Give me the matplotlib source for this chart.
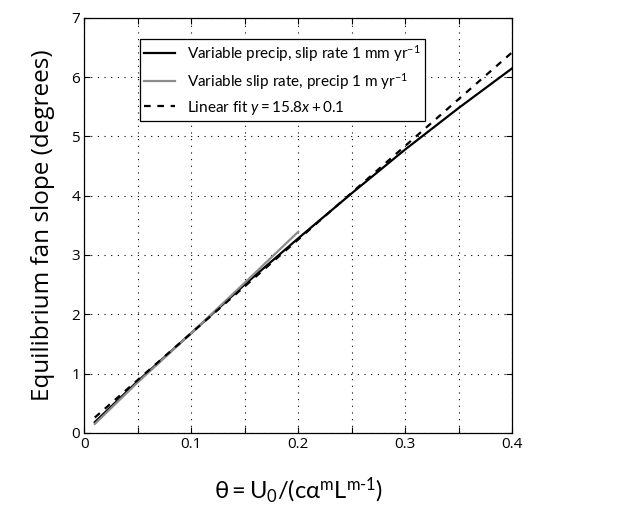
import matplotlib
matplotlib.use('Agg')

import matplotlib.pyplot as plt
import numpy as np

plt.rcParams['font.family'] = ['Open Sans', 'DejaVu Sans']
plt.rcParams['mathtext.fontset'] = 'custom'
plt.rcParams['mathtext.rm'] = 'Lato'
plt.rcParams['mathtext.it'] = 'Lato:italic'

# Data
precip_x = [0.01, 0.05, 0.10, 0.15, 0.20, 0.25, 0.30, 0.35, 0.40]
precip_y = [0.18, 0.87, 1.68, 2.50, 3.28, 4.04, 4.78, 5.48, 6.15]

slip_x = [0.01, 0.05, 0.10, 0.15, 0.20]
slip_y = [0.15, 0.85, 1.68, 2.53, 3.39]

fit_x = [0.01, 0.40]
fit_y = [0.258, 6.42]

xticks = [0, 0.05, 0.1, 0.15, 0.2, 0.25, 0.3, 0.35, 0.4]
xticklabels = ['0', '', '0.1', '', '0.2', '', '0.3', '', '0.4']
yticks = [0, 1, 2, 3, 4, 5, 6, 7]

fig = plt.figure(figsize=(6.42, 5.08), dpi=100)
ax = fig.add_axes([0.131, 0.148, 0.667, 0.817])

ax.plot(precip_x, precip_y, color='black', lw=1.6,
        label='Variable precip, slip rate 1 mm yr$^{-1}$')
ax.plot(slip_x, slip_y, color='#8c8c8c', lw=1.6,
        label='Variable slip rate, precip 1 m yr$^{-1}$')
ax.plot(fit_x, fit_y, color='black', lw=1.6, ls=(0, (3, 3)),
        label=r'Linear fit $\mathit{y = 15.8x + 0.1}$')

ax.set_xlim(0, 0.4)
ax.set_ylim(0, 7)
ax.set_xticks(xticks)
ax.set_xticklabels(xticklabels)
ax.set_yticks(yticks)
ax.tick_params(direction='in', top=True, right=True, labelsize=11, length=4, pad=3)
ax.grid(True, color='black', ls=(0, (1, 5)), lw=0.8)
for s in ax.spines.values():
    s.set_linewidth(0.9)

ax.set_xlabel(r'$\mathrm{\theta = U_0/(c\alpha^mL^{m\text{-}1})}$', fontsize=17, labelpad=17)
ax.set_ylabel('Equilibrium fan slope (degrees)', fontsize=17.5, labelpad=12)

leg = ax.legend(loc='upper left', bbox_to_anchor=(0.13, 0.95),
                prop={'family': ['Lato', 'DejaVu Sans'], 'size': 11},
                frameon=True, fancybox=False, edgecolor='black', framealpha=1,
                handlelength=2.0, handletextpad=0.8, borderpad=0.3,
                labelspacing=0.45, borderaxespad=0)
leg.get_frame().set_linewidth(0.9)

fig.savefig('out.png', dpi=100)
